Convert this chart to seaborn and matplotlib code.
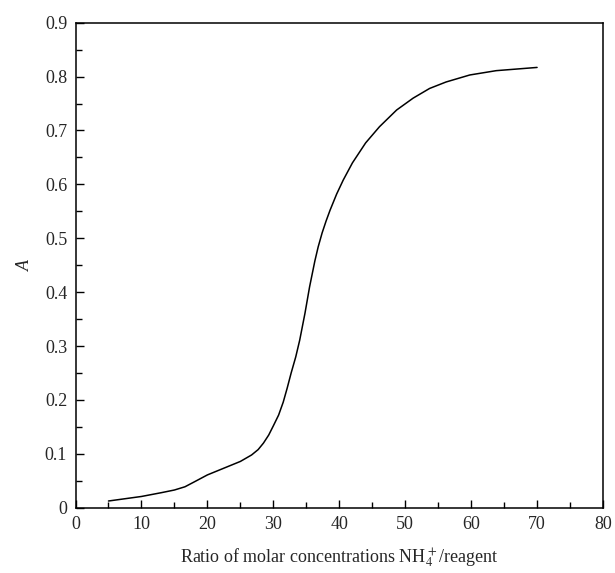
import matplotlib
matplotlib.use("Agg")
import matplotlib.pyplot as plt
import pandas as pd
import seaborn as sns
from matplotlib.ticker import MultipleLocator, FuncFormatter

# values
ratio = [5, 10, 13, 15, 16.6, 18, 20, 23, 25, 26.7, 27.7, 28.5, 29.3, 30, 30.8,
         31.5, 32.1, 32.7, 33.4, 34, 34.8, 35.5, 36.3, 36.8, 37.4, 38.0, 38.6,
         39.6, 40.6, 42, 44, 46.1, 48.7, 51.2, 53.7, 56.2, 59.8, 63.8, 70]
absorb = [0.0126, 0.021, 0.028, 0.033, 0.039, 0.048, 0.061, 0.076, 0.086, 0.098,
          0.108, 0.12, 0.135, 0.152, 0.172, 0.196, 0.222, 0.25, 0.28, 0.311,
          0.361, 0.41, 0.458, 0.484, 0.51, 0.532, 0.552, 0.582, 0.608, 0.64,
          0.677, 0.707, 0.738, 0.76, 0.778, 0.79, 0.803, 0.811, 0.817]

df = pd.DataFrame({"ratio": ratio, "A": absorb})

sns.set_style("ticks")
plt.rcParams["font.family"] = ["Liberation Serif", "DejaVu Serif"]
plt.rcParams["mathtext.fontset"] = "stix"

fig = plt.figure(figsize=(6.15, 5.73), dpi=100)
ax = fig.add_axes([0.1228, 0.1138, 0.8577, 0.8466])

sns.lineplot(data=df, x="ratio", y="A", sort=False, color="black",
             linewidth=1.1, ax=ax)

ax.set_xlim(0, 80)
ax.set_ylim(0, 0.9)
ax.xaxis.set_major_locator(MultipleLocator(10))
ax.xaxis.set_minor_locator(MultipleLocator(5))
ax.yaxis.set_major_locator(MultipleLocator(0.1))
ax.yaxis.set_minor_locator(MultipleLocator(0.05))
ax.yaxis.set_major_formatter(FuncFormatter(lambda v, p: "0" if abs(v) < 1e-9 else f"{v:.1f}"))

ax.tick_params(which="both", direction="in", top=False, right=False,
               labelsize=13, width=1, color="black")
ax.tick_params(which="major", length=6, pad=6)
ax.tick_params(which="minor", length=4.5)
for s in ax.spines.values():
    s.set_linewidth(1.1)
    s.set_color("black")

ax.set_xlabel(r"Ratio of molar concentrations NH$_4^+$/reagent", fontsize=13,
              labelpad=10)
ax.set_ylabel("A", fontsize=13, fontstyle="italic", labelpad=8)

fig.savefig("out.png", dpi=100)
